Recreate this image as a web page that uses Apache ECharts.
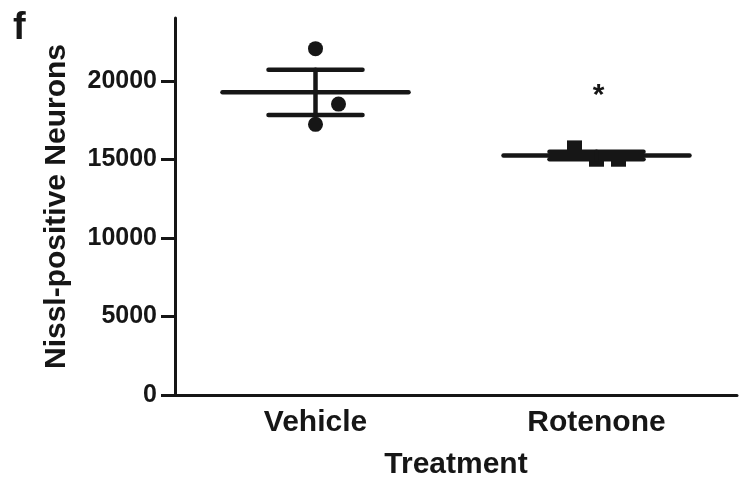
<!DOCTYPE html>
<html>
<head>
<meta charset="utf-8">
<script src="https://cdn.jsdelivr.net/npm/echarts@6/dist/echarts.min.js"></script>
<style>
  html, body { margin: 0; padding: 0; background: #fff; }
  #chart { width: 749px; height: 487px; }
</style>
</head>
<body>
<div id="chart"></div>
<script>
// data
const categories = ['Vehicle', 'Rotenone'];
const vehicleValues = [22050, 18520, 17230];
const rotenoneValues = [15730, 15010, 15010];
const yTicks = [0, 5000, 10000, 15000, 20000];
const sigLabels = ['', '*'];

// horizontal scatter of the dots inside each column (px)
const jitterPx = [[0, 23, 0], [-22, 0, 22]];

const ink = '#161616';
const font = 'Liberation Sans, Arial, sans-serif';

function mean(arr) {
  return arr.reduce((s, v) => s + v, 0) / arr.length;
}
function sem(arr) {
  const m = mean(arr);
  const ss = arr.reduce((s, v) => s + (v - m) * (v - m), 0);
  return Math.sqrt(ss / (arr.length - 1)) / Math.sqrt(arr.length);
}

const groups = [vehicleValues, rotenoneValues];
// [category index, mean, sem]
const summary = groups.map((g, i) => [i, mean(g), sem(g)]);

function points(values, gi) {
  return values.map((v, k) => ({
    value: [gi, v],
    symbolOffset: [jitterPx[gi][k], 0]
  }));
}

const chart = echarts.init(document.getElementById('chart'));

chart.setOption({
  backgroundColor: '#fff',
  animation: false,
  textStyle: { fontFamily: font },
  graphic: [{
    type: 'text',
    left: 13,
    top: 10,
    style: { text: 'f', font: 'bold 38px ' + font, fill: ink }
  }],
  grid: { left: 175, right: 12, top: 18, bottom: 92 },
  xAxis: {
    type: 'category',
    data: categories,
    boundaryGap: true,
    name: 'Treatment',
    nameLocation: 'middle',
    nameGap: 55,
    nameTextStyle: { color: ink, fontSize: 30, fontWeight: 'bold', fontFamily: font },
    axisLine: { lineStyle: { color: ink, width: 3 } },
    axisTick: { alignWithLabel: true, length: 10, lineStyle: { color: ink, width: 3 } },
    axisLabel: { color: ink, fontSize: 30, fontWeight: 'bold', margin: 13, fontFamily: font },
    splitLine: { show: false }
  },
  yAxis: {
    type: 'value',
    min: 0,
    max: 24000,
    interval: 5000,
    name: 'Nissl-positive Neurons',
    nameLocation: 'middle',
    nameGap: 103,
    nameTextStyle: { color: ink, fontSize: 30, fontWeight: 'bold', fontFamily: font },
    axisLine: { show: true, lineStyle: { color: ink, width: 3 } },
    axisTick: { show: true, length: 14, customValues: yTicks, lineStyle: { color: ink, width: 3 } },
    axisLabel: {
      color: ink, fontSize: 25, fontWeight: 'bold', margin: 18,
      customValues: yTicks, fontFamily: font,
      formatter: (v) => String(v)
    },
    splitLine: { show: false }
  },
  series: [
    {
      type: 'custom',
      data: summary,
      z: 3,
      renderItem(params, api) {
        const i = api.value(0);
        const m = api.value(1);
        const e = api.value(2);
        const c = api.coord([i, m]);
        const hi = api.coord([i, m + e]);
        const lo = api.coord([i, m - e]);
        const style = { stroke: ink, lineWidth: 4.5, lineCap: 'round' };
        const children = [
          { type: 'line', shape: { x1: c[0] - 93, y1: c[1], x2: c[0] + 93, y2: c[1] }, style },
          { type: 'line', shape: { x1: c[0] - 47, y1: hi[1], x2: c[0] + 47, y2: hi[1] }, style },
          { type: 'line', shape: { x1: c[0] - 47, y1: lo[1], x2: c[0] + 47, y2: lo[1] }, style },
          { type: 'line', shape: { x1: c[0], y1: hi[1], x2: c[0], y2: lo[1] }, style }
        ];
        if (sigLabels[i]) {
          children.push({
            type: 'text',
            x: c[0] + 2,
            y: hi[1] - 56,
            style: {
              text: sigLabels[i],
              font: 'bold 30px ' + font,
              fill: ink,
              align: 'center',
              verticalAlign: 'middle'
            }
          });
        }
        return { type: 'group', children };
      }
    },
    {
      type: 'scatter',
      symbol: 'circle',
      symbolSize: 15,
      itemStyle: { color: ink, opacity: 1 },
      data: points(vehicleValues, 0)
    },
    {
      type: 'scatter',
      symbol: 'rect',
      symbolSize: 15,
      itemStyle: { color: ink, opacity: 1 },
      data: points(rotenoneValues, 1)
    }
  ]
});
</script>
</body>
</html>
